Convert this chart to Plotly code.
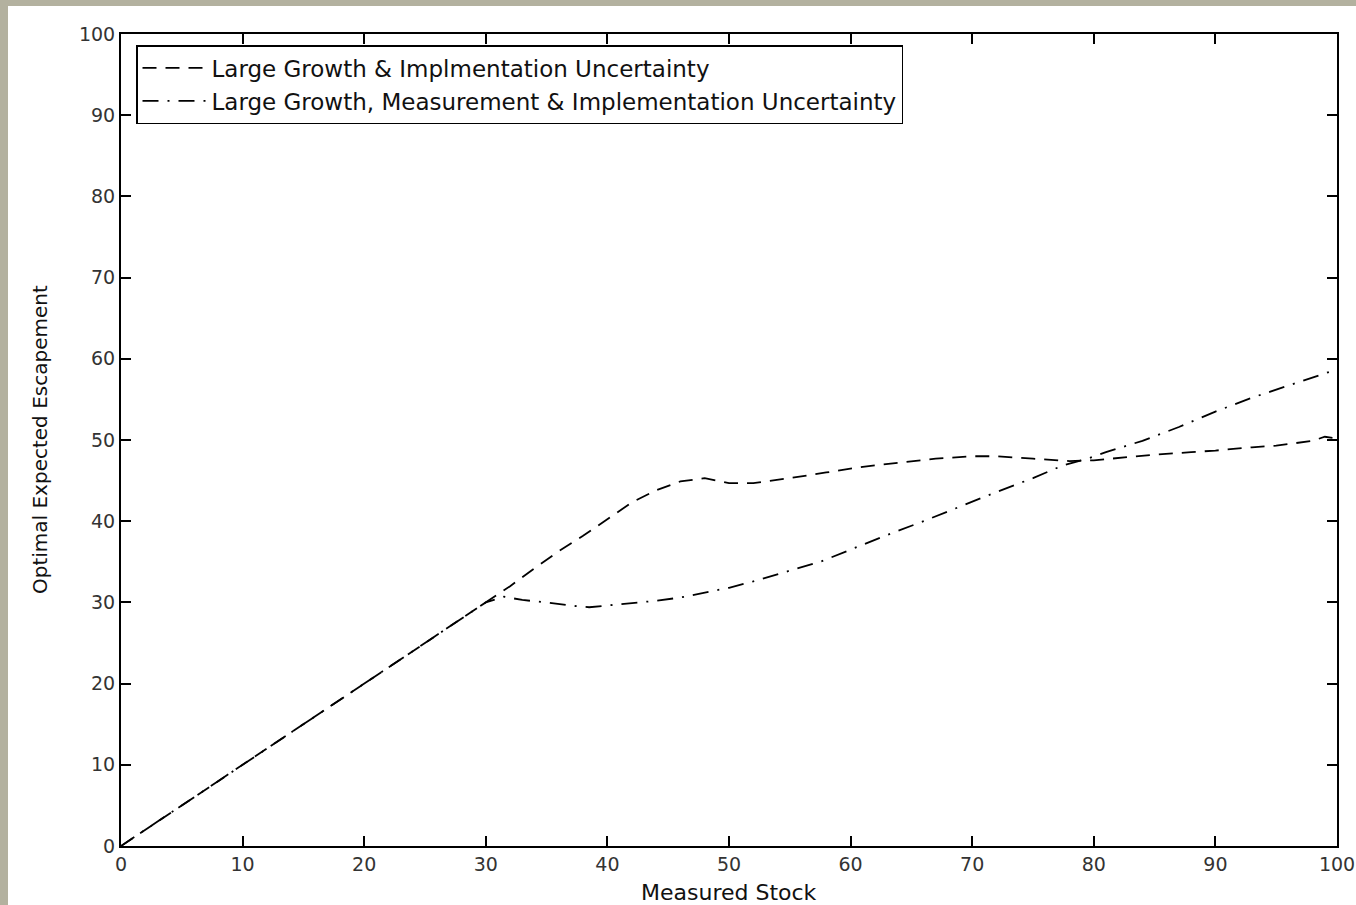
import plotly.graph_objects as go

# Data
stock_dash = [0, 5, 10, 15, 20, 25, 30, 32, 34, 36, 38, 40, 42, 44, 46, 48, 50, 52, 55, 58,
              61, 64, 67, 70, 72, 75, 78, 80, 82, 85, 88, 90, 93, 95, 98, 99, 100]
esc_dash = [0, 5, 10, 15, 20, 25, 30, 32.0, 34.2, 36.3, 38.2, 40.2, 42.3, 43.8, 44.9, 45.3,
            44.7, 44.7, 45.3, 46.0, 46.7, 47.2, 47.7, 48.0, 48.0, 47.7, 47.4, 47.5, 47.8,
            48.2, 48.5, 48.7, 49.1, 49.3, 49.9, 50.4, 50.2]

stock_dashdot = [0, 5, 10, 15, 20, 25, 30, 31.5, 33, 35, 37, 38.5, 40, 42, 44, 46, 48, 50, 52,
                 54.5, 57.5, 60, 63, 66, 69, 72, 75, 77.5, 79.5, 81, 84, 87, 90, 93, 96, 99, 100]
esc_dashdot = [0, 5, 10, 15, 20, 25, 30, 30.7, 30.3, 30.0, 29.6, 29.4, 29.6, 29.9, 30.2, 30.6,
               31.2, 31.8, 32.6, 33.7, 35.0, 36.5, 38.3, 40.0, 41.8, 43.6, 45.3, 46.9, 47.7,
               48.5, 49.9, 51.6, 53.5, 55.2, 56.7, 58.2, 58.7]

series_names = ["Large Growth & Implmentation Uncertainty",
                "Large Growth, Measurement & Implementation Uncertainty"]
tick_vals = [0, 10, 20, 30, 40, 50, 60, 70, 80, 90, 100]
tick_text = [str(v) for v in tick_vals]

FONT = "DejaVu Sans"
W, H = 1356, 905
ML, MR, MT, MB = 121, 19, 34, 59
PW, PH = W - ML - MR, H - MT - MB

def px_x(p):
    return (p - ML) / PW

def px_y(p):
    return (H - MB - p) / PH

fig = go.Figure()
fig.add_trace(go.Scatter(x=stock_dash, y=esc_dash, mode="lines", name=series_names[0],
                         line=dict(color="black", width=1.8, dash="14px,9px")))
fig.add_trace(go.Scatter(x=stock_dashdot, y=esc_dashdot, mode="lines", name=series_names[1],
                         line=dict(color="black", width=1.8, dash="16px,9px,2px,9px")))

axis_common = dict(range=[0, 100], tickvals=tick_vals, ticktext=tick_text,
                   showgrid=False, zeroline=False, showline=True, linecolor="black",
                   linewidth=2, mirror="ticks", ticks="inside", ticklen=10, tickwidth=1.5,
                   tickcolor="black", tickfont=dict(family=FONT, size=19, color="#333"))
fig.update_xaxes(**axis_common)
fig.update_yaxes(**axis_common)

fig.update_layout(
    width=W, height=H,
    margin=dict(l=ML, r=MR, t=MT, b=MB, autoexpand=False),
    paper_bgcolor="white", plot_bgcolor="white",
    font=dict(family=FONT, color="black"),
    showlegend=True,
    legend=dict(x=px_x(136), y=px_y(45), xanchor="left", yanchor="top",
                bgcolor="white", bordercolor="black", borderwidth=1.5,
                font=dict(family=FONT, size=23, color="#111"),
                itemwidth=64, tracegroupgap=0),
    annotations=[
        dict(text="Measured Stock", xref="paper", yref="paper", x=px_x(729), y=px_y(892),
             xanchor="center", yanchor="middle", showarrow=False,
             font=dict(family=FONT, size=22, color="#111")),
        dict(text="Optimal Expected Escapement", xref="paper", yref="paper", x=px_x(40),
             y=px_y(440), xanchor="center", yanchor="middle", textangle=-90, showarrow=False,
             font=dict(family=FONT, size=20, color="#111")),
    ],
    shapes=[
        dict(type="rect", xref="paper", yref="paper", x0=px_x(0), x1=px_x(8), y0=px_y(H),
             y1=px_y(0), fillcolor="#b3b19f", line=dict(width=0), layer="below"),
        dict(type="rect", xref="paper", yref="paper", x0=px_x(0), x1=px_x(W), y0=px_y(6),
             y1=px_y(0), fillcolor="#b3b19f", line=dict(width=0), layer="below"),
    ],
)

fig.write_html("out.html")
